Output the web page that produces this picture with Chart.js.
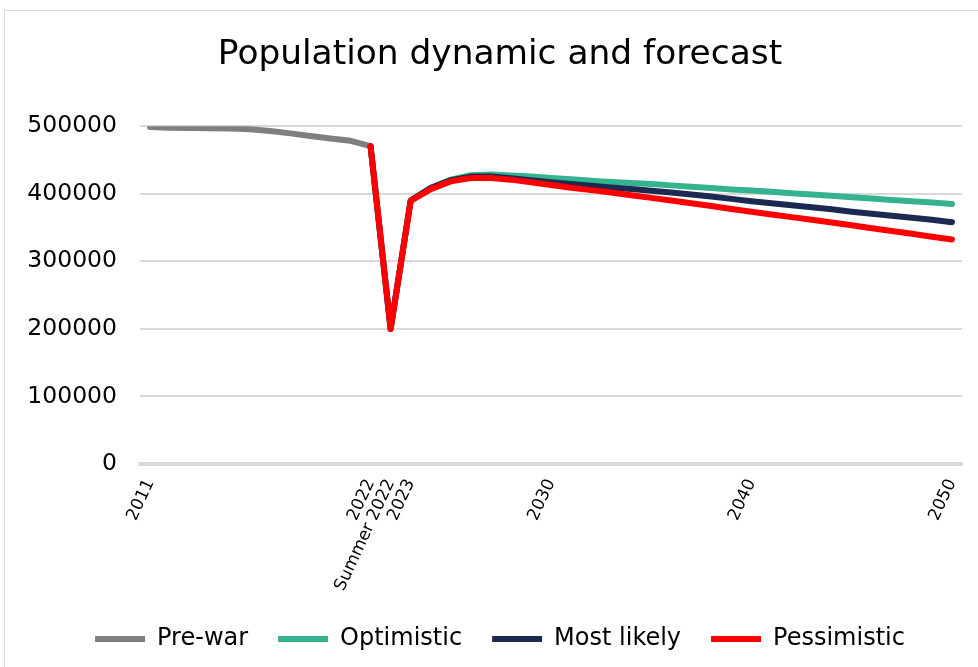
<!DOCTYPE html>
<html>
<head>
<meta charset="utf-8">
<script src="https://cdn.jsdelivr.net/npm/chart.js@4.4.1/dist/chart.umd.min.js"></script>
<style>
body { margin: 0; background: #fff; }
#wrap { position: relative; width: 978px; height: 667px; overflow: hidden; }
#frame { position: absolute; left: 4px; top: 10px; width: 1000px; height: 700px; border: 1px solid #d9d9d9; }
canvas { position: absolute; left: 0; top: 0; }
</style>
</head>
<body>
<div id="wrap">
  <div id="frame"></div>
  <canvas id="grafica" width="978" height="667"></canvas>
</div>
<script>
// categorias del eje X
var categories = ["2011", "2012", "2013", "2014", "2015", "2016", "2017", "2018", "2019", "2020", "2021", "2022",
  "Summer 2022",
  "2023", "2024", "2025", "2026", "2027", "2028", "2029", "2030", "2031", "2032", "2033", "2034", "2035", "2036",
  "2037", "2038", "2039", "2040", "2041", "2042", "2043", "2044", "2045", "2046", "2047", "2048", "2049", "2050"];
// solo estas etiquetas se muestran
var shownLabels = ["2011", "2022", "Summer 2022", "2023", "2030", "2040", "2050"];
var yTicks = [0, 100000, 200000, 300000, 400000, 500000];

var preWar = [499000, 498000, 497500, 497000, 496800, 495500, 493000, 489500, 485500, 482000, 478500, 470500,
  null, null, null, null, null, null, null, null, null, null, null, null, null, null, null, null, null,
  null, null, null, null, null, null, null, null, null, null, null, null];
var optimistic = [null, null, null, null, null, null, null, null, null, null, null, 470500,
  200000,
  390000, 409000, 421000, 427500, 428500, 427000, 425500, 423500, 421500, 419500, 417500, 416000, 414500, 412500,
  410500, 408500, 406500, 405000, 403000, 401000, 399000, 397000, 395000, 393000, 391000, 389000, 387000, 385000];
var mostLikely = [null, null, null, null, null, null, null, null, null, null, null, 470500,
  200000,
  390000, 408500, 420000, 425500, 425500, 423000, 420000, 417000, 414500, 412000, 409500, 407000, 404500, 402000,
  399000, 396000, 392500, 389000, 386000, 383000, 380000, 377000, 373500, 370500, 367500, 364500, 361500, 358000];
var pessimistic = [null, null, null, null, null, null, null, null, null, null, null, 470500,
  200000,
  389500, 407000, 418500, 423500, 423500, 421000, 417000, 413000, 409000, 405500, 402000, 398000, 394000, 390000,
  386000, 382000, 377500, 373500, 369500, 365500, 361500, 357500, 353500, 349000, 345000, 341000, 336500, 332500];

Chart.defaults.font.family = "'DejaVu Sans', Verdana, sans-serif";
Chart.defaults.color = '#000';

function serie(label, data, color) {
    return {
        label: label,
        data: data,
        borderColor: color,
        backgroundColor: color,
        borderWidth: 6,
        borderCapStyle: 'round',
        borderJoinStyle: 'round',
        pointRadius: 0,
        tension: 0,
        spanGaps: false
    };
}

var ctx = document.getElementById("grafica").getContext('2d');
var grafica = new Chart(ctx, {
    type: 'line',
    data: {
        labels: categories,
        // el primero se dibuja encima
        datasets: [
            serie('Pessimistic', pessimistic, '#ff0000'),
            serie('Most likely', mostLikely, '#1c2951'),
            serie('Optimistic', optimistic, '#35b38f'),
            serie('Pre-war', preWar, '#7f7f7f')
        ]
    },
    options: {
        responsive: false,
        animation: false,
        // titulo y leyenda centrados en x=500
        layout: { padding: { top: 10, right: -22, bottom: 6, left: 0 } },
        plugins: {
            title: {
                display: true,
                text: 'Population dynamic and forecast',
                font: { size: 34.4, weight: 'normal' },
                color: '#000',
                padding: { top: 24, bottom: 51 }
            },
            legend: {
                position: 'bottom',
                reverse: true,
                labels: {
                    usePointStyle: true,
                    pointStyle: 'line',
                    pointStyleWidth: 50,
                    font: { size: 24 },
                    color: '#000',
                    padding: 30
                }
            },
            tooltip: { enabled: false }
        },
        scales: {
            x: {
                offset: true,
                grid: { display: false },
                border: { display: true, color: '#d9d9d9', width: 4 },
                ticks: {
                    autoSkip: false,
                    maxRotation: 65,
                    minRotation: 65,
                    padding: 4,
                    font: { size: 17 },
                    color: '#000',
                    callback: function (value, index) {
                        var lab = categories[index];
                        return shownLabels.indexOf(lab) >= 0 ? lab : '';
                    }
                },
                afterFit: function (scale) { scale.height = 133; }
            },
            y: {
                min: 0,
                max: 500000,
                afterBuildTicks: function (scale) {
                    scale.ticks = yTicks.map(function (v) { return { value: v }; });
                },
                grid: { color: '#d9d9d9', lineWidth: 2, drawTicks: false },
                border: { display: false },
                ticks: {
                    padding: 23,
                    font: { size: 23.5 },
                    color: '#000',
                    callback: function (value) { return String(value); }
                },
                afterFit: function (scale) { scale.width = 140; }
            },
            // eje vacio a la derecha, solo ocupa espacio
            yRight: {
                type: 'linear',
                position: 'right',
                display: true,
                grid: { display: false },
                border: { display: false },
                ticks: { display: false },
                afterFit: function (scale) { scale.width = 38; }
            }
        }
    }
});
</script>
</body>
</html>
